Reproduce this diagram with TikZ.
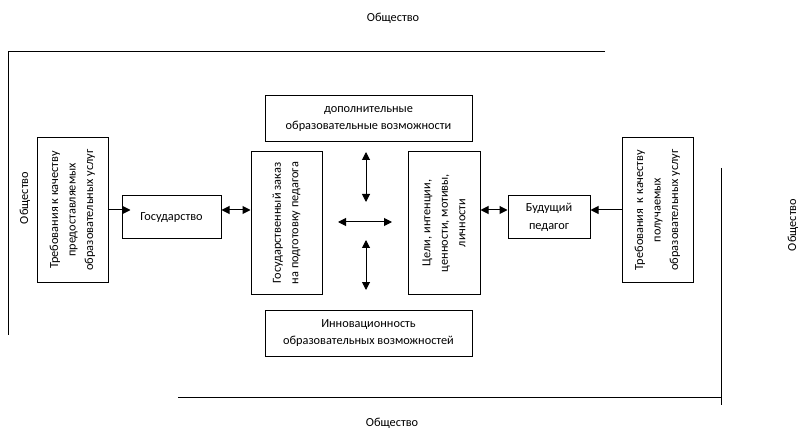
\documentclass[tikz,border=0pt]{standalone}
\usepackage{fontspec}
\setmainfont{Carlito}
\usetikzlibrary{arrows.meta}
\begin{document}
\begin{tikzpicture}[x=1pt,y=-1pt,
  every node/.style={font=\fontsize{12.3}{17.5}\selectfont},
  >={Triangle[length=8pt,width=8pt]},
  box/.style={draw,line width=1pt,align=center,inner sep=2pt},
  vbox/.style={box,rotate=90},
  lbl/.style={inner sep=0pt},
  one/.style={line width=1pt,->},
  two/.style={line width=1pt,<->},
  frame/.style={line width=1pt}]
\useasboundingbox (0,0) rectangle (800,430);
% society labels
\node[lbl] (sTop) at (393,18) {Общество};
\node[lbl] (sBot) at (392,423) {Общество};
\node[lbl,rotate=90] (sLeft) at (25,198) {Общество};
\node[lbl,rotate=90] (sRight) at (793,225) {Общество};
% frame lines
\draw[frame] (605,52) -- (8,52) -- (8,335);
\draw[frame] (178,397) -- (721,397);
\draw[frame] (721,168) -- (721,405);
% boxes
\node[vbox,minimum width=144pt,minimum height=71pt] (reqL) at (72.5,210) {Требования к качеству\\предоставляемых\\образовательных услуг};
\node[box,minimum width=99pt,minimum height=43pt] (gov) at (171.5,217.5) {Государство};
\node[vbox,minimum width=142pt,minimum height=71pt] (order) at (286.5,223) {Государственный заказ\\на подготовку педагога};
\node[box,minimum width=207pt,minimum height=46pt] (extra) at (368.5,119) {дополнительные\\образовательные возможности};
\node[box,minimum width=207pt,minimum height=46pt] (innov) at (368.5,333) {Инновационность\\образовательных возможностей};
\node[vbox,minimum width=142pt,minimum height=72pt] (goals) at (444,223) {Цели, интенции,\\ценности, мотивы,\\личности};
\node[box,minimum width=82pt,minimum height=43pt] (future) at (549,217.5) {Будущий\\педагог};
\node[vbox,minimum width=144pt,minimum height=71pt] (reqR) at (657.5,210) {Требования\ \ к качеству\\получаемых\\образовательных услуг};
% central arrows
\coordinate (vt1) at (366,152);
\coordinate (vt2) at (366,202);
\coordinate (h1) at (338,222);
\coordinate (h2) at (392,222);
\coordinate (vb1) at (366,240);
\coordinate (vb2) at (366,290);
\draw[two] (vt1) -- (vt2);
\draw[two] (h1) -- (h2);
\draw[two] (vb1) -- (vb2);
% connectors
\draw[one,shorten >=-9pt] (reqL.south |- 0,210) -- (gov.west |- 0,210);
\draw[two] (gov.east |- 0,210) -- (order.north |- 0,210);
\draw[two] (goals.south |- 0,210) -- (future.west |- 0,210);
\draw[one] (reqR.north |- 0,210) -- (future.east |- 0,210);
\end{tikzpicture}
\end{document}
